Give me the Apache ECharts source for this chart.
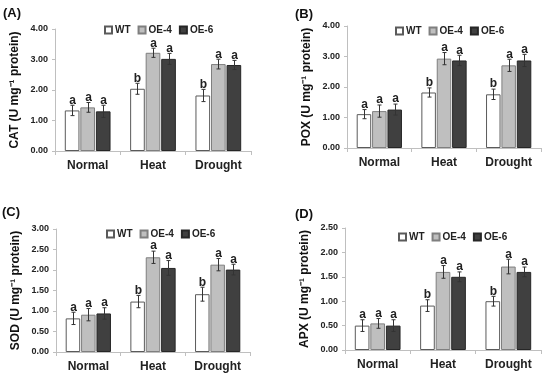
<!DOCTYPE html>
<html>
<head>
<meta charset="utf-8">
<script src="https://cdn.jsdelivr.net/npm/echarts@6/dist/echarts.min.js"></script>
<style>html,body{margin:0;padding:0;background:#fff}#c{width:550px;height:379px}</style>
</head>
<body>
<div id="c"></div>
<script>
// ---- data ----
const categories = ['Normal', 'Heat', 'Drought'];
const genotypes = ['WT', 'OE-4', 'OE-6'];
// rows: WT, OE-4, OE-6 ; columns: Normal, Heat, Drought
const catMean = [[1.33, 2.04, 1.82], [1.43, 3.22, 2.85], [1.30, 3.02, 2.82]];
const catErr  = [[0.17, 0.18, 0.20], [0.16, 0.15, 0.16], [0.20, 0.18, 0.15]];
const poxMean = [[1.11, 1.82, 1.76], [1.21, 2.93, 2.71], [1.26, 2.87, 2.87]];
const poxErr  = [[0.15, 0.15, 0.17], [0.20, 0.20, 0.20], [0.18, 0.17, 0.20]];
const sodMean = [[0.82, 1.23, 1.41], [0.91, 2.31, 2.13], [0.94, 2.05, 2.01]];
const sodErr  = [[0.15, 0.15, 0.17], [0.15, 0.15, 0.15], [0.14, 0.18, 0.13]];
const apxMean = [[0.50, 0.91, 1.00], [0.545, 1.60, 1.71], [0.50, 1.50, 1.60]];
const apxErr  = [[0.12, 0.12, 0.10], [0.10, 0.13, 0.15], [0.12, 0.10, 0.10]];
// rows: WT, OE-4, OE-6 ; columns: Normal, Heat, Drought
const letters = [['a', 'b', 'b'], ['a', 'a', 'a'], ['a', 'a', 'a']];
const catTicks = [0, 1, 2, 3, 4];
const poxTicks = [0, 1, 2, 3, 4];
const sodTicks = [0, 0.5, 1, 1.5, 2, 2.5, 3];
const apxTicks = [0, 0.5, 1, 1.5, 2, 2.5];

const panels = [
  {label: '(A)', name: 'CAT (U mg\u207B\u00B9 protein)', mean: catMean, err: catErr, ticks: catTicks,
   grid: {left: 55, top: 29, width: 196, height: 122}, legend: {left: 99, top: 20}, lab: [3, 7]},
  {label: '(B)', name: 'POX (U mg\u207B\u00B9 protein)', mean: poxMean, err: poxErr, ticks: poxTicks,
   grid: {left: 347, top: 26, width: 194, height: 122}, legend: {left: 390, top: 21}, lab: [295, 8]},
  {label: '(C)', name: 'SOD (U mg\u207B\u00B9 protein)', mean: sodMean, err: sodErr, ticks: sodTicks,
   grid: {left: 56, top: 229, width: 194, height: 123}, legend: {left: 101, top: 224}, lab: [2, 206]},
  {label: '(D)', name: 'APX (U mg\u207B\u00B9 protein)', mean: apxMean, err: apxErr, ticks: apxTicks,
   grid: {left: 345, top: 228, width: 196, height: 122}, legend: {left: 393, top: 227}, lab: [295, 208]}
];

const colors = ['#ffffff', '#bfbfbf', '#404040'];
const borders = ['#5a5a5a', '#7f7f7f', '#262626'];
const CAT_GAP = 0.30, BAR_GAP = 0.06;
const FONT = 'Liberation Sans, Arial, sans-serif';

const grids = [], xAxes = [], yAxes = [], series = [], legends = [], graphics = [];
panels.forEach((p, pi) => {
  grids.push(Object.assign({containLabel: false}, p.grid));
  xAxes.push({
    type: 'category', gridIndex: pi, data: categories,
    axisLine: {lineStyle: {color: '#bfbfbf', width: 1}},
    axisTick: {show: true, length: 4, lineStyle: {color: '#bfbfbf'}},
    axisLabel: {color: '#222', fontSize: 12, fontWeight: 'bold', fontFamily: FONT, margin: 9}
  });
  const tk = p.ticks;
  yAxes.push({
    type: 'value', gridIndex: pi, min: tk[0], max: tk[tk.length - 1], interval: tk[1] - tk[0],
    name: p.name, nameLocation: 'middle', nameRotate: 90, nameGap: 34,
    nameTextStyle: {color: '#111', fontSize: 12, fontWeight: 'bold', fontFamily: FONT},
    axisLine: {show: true, lineStyle: {color: '#bfbfbf', width: 1}},
    axisTick: {show: true, length: 3, lineStyle: {color: '#bfbfbf'}},
    splitLine: {show: false},
    axisLabel: {color: '#222', fontSize: 9, fontWeight: 'bold', fontFamily: FONT, margin: 7,
      formatter: v => v.toFixed(2)}
  });
  genotypes.forEach((g, gi) => {
    series.push({
      type: 'bar', name: g, xAxisIndex: pi, yAxisIndex: pi, data: p.mean[gi],
      barCategoryGap: (CAT_GAP * 100) + '%', barGap: (BAR_GAP * 100) + '%',
      itemStyle: {color: colors[gi], borderColor: borders[gi], borderWidth: 1},
      emphasis: {disabled: true}, z: 2
    });
  });
  genotypes.forEach((g, gi) => {
    series.push({
      type: 'custom', name: g + '_err', xAxisIndex: pi, yAxisIndex: pi,
      data: p.mean[gi].map((m, ci) => [ci, m, p.err[gi][ci], letters[gi][ci]]),
      z: 5, silent: true,
      renderItem: function (params, api) {
        const ci = api.value(0), m = api.value(1), e = api.value(2);
        const band = api.size([1, 0])[0];
        const bw = band * (1 - CAT_GAP) / (3 + 2 * BAR_GAP);
        const off = (gi - 1) * bw * (1 + BAR_GAP);
        const top = api.coord([ci, m + e]);
        const bot = api.coord([ci, m - e]);
        const x = Math.round(top[0] + off) + 0.5;
        const cap = 2;
        const lc = '#333';
        return {
          type: 'group',
          children: [
            {type: 'line', shape: {x1: x, y1: top[1], x2: x, y2: bot[1]}, style: {stroke: lc, lineWidth: 1}},
            {type: 'line', shape: {x1: x - cap, y1: top[1], x2: x + cap, y2: top[1]}, style: {stroke: lc, lineWidth: 1}},
            {type: 'line', shape: {x1: x - cap, y1: bot[1], x2: x + cap, y2: bot[1]}, style: {stroke: lc, lineWidth: 1}},
            {type: 'text', x: x, y: top[1] + 1,
             style: {text: api.value(3), fill: '#222', font: 'bold 12px ' + FONT, align: 'center', verticalAlign: 'bottom'}}
          ]
        };
      }
    });
  });
  legends.push({
    data: genotypes, left: p.legend.left, top: p.legend.top, orient: 'horizontal',
    icon: 'rect', itemWidth: 7, itemHeight: 7, itemGap: 7,
    textStyle: {color: '#222', fontSize: 10, fontWeight: 'bold', fontFamily: FONT, padding: [0, 0, 0, -2]},
    selectedMode: false
  });
  graphics.push({
    type: 'text', left: p.lab[0], top: p.lab[1],
    style: {text: p.label, fill: '#111', font: 'bold 13px ' + FONT}
  });
});

const chart = echarts.init(document.getElementById('c'), null, {renderer: 'canvas'});
chart.setOption({
  animation: false,
  backgroundColor: '#fff',
  grid: grids, xAxis: xAxes, yAxis: yAxes, legend: legends, series: series, graphic: graphics
});
</script>
</body>
</html>
